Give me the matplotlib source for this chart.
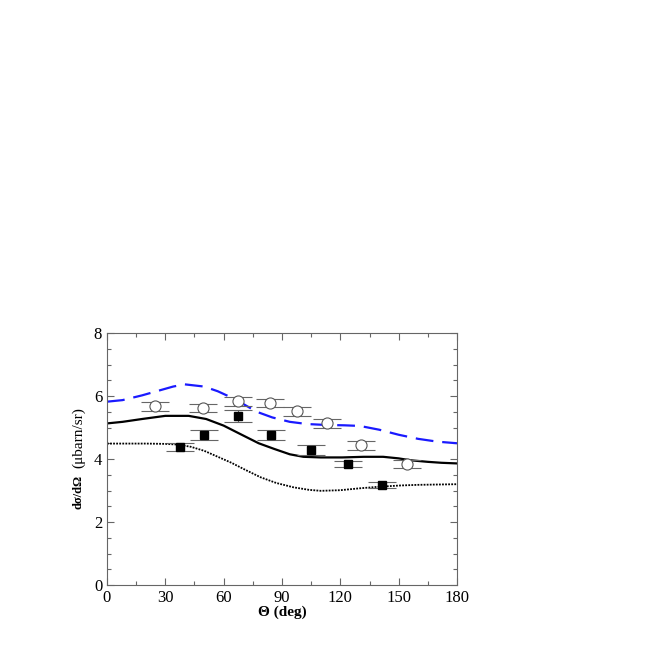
import numpy as np
import matplotlib
matplotlib.use('Agg')
from matplotlib import pyplot as plt
from matplotlib.ticker import MultipleLocator

plt.rcParams['font.family'] = ['Liberation Serif', 'DejaVu Serif']

# curves (theta in deg, cross section in mubarn/sr)
blue_theta = [0, 8, 18, 26, 34, 40, 50, 57, 63, 70, 77, 85, 94, 103, 113, 122, 130, 140, 150, 160, 170, 180]
blue_xs = [5.82, 5.87, 6.02, 6.16, 6.30, 6.37, 6.30, 6.15, 5.98, 5.75, 5.50, 5.32, 5.18, 5.11, 5.08, 5.07, 5.05, 4.93, 4.77, 4.64, 4.55, 4.50]

solid_theta = [0, 8, 18, 30, 42, 51, 60, 68, 78, 86, 94, 101, 110, 121, 132, 142, 150, 156, 165, 172, 180]
solid_xs = [5.13, 5.18, 5.27, 5.37, 5.37, 5.27, 5.06, 4.81, 4.50, 4.32, 4.15, 4.07, 4.05, 4.05, 4.07, 4.07, 4.02, 3.96, 3.91, 3.88, 3.86]

dot_theta = [0, 10, 20, 30, 36, 43, 50, 57, 64, 71, 79, 87, 96, 104, 110, 120, 130, 140, 151, 160, 170, 180]
dot_xs = [4.49, 4.49, 4.49, 4.48, 4.46, 4.39, 4.26, 4.07, 3.88, 3.66, 3.42, 3.24, 3.10, 3.02, 2.99, 3.01, 3.07, 3.12, 3.16, 3.18, 3.19, 3.20]

# data points
circ_theta = [24.7, 49.6, 67.4, 83.9, 97.9, 113.0, 130.8, 154.2]
circ_xs = [5.68, 5.62, 5.83, 5.78, 5.52, 5.13, 4.44, 3.84]
circ_err = [0.14, 0.14, 0.14, 0.14, 0.14, 0.14, 0.14, 0.14]

sq_theta = [37.5, 49.9, 67.5, 84.4, 104.9, 123.8, 141.3]
sq_xs = [4.39, 4.76, 5.37, 4.76, 4.29, 3.84, 3.17]
sq_err = [0.13, 0.15, 0.2, 0.15, 0.15, 0.1, 0.1]

fig = plt.figure(figsize=(6.54, 6.54), dpi=100)
ax = fig.add_axes([0.1636, 0.1055, 0.5352, 0.3853])

ax.plot(blue_theta, blue_xs, color='#1a1aff', lw=1.6, dashes=(8, 4))
ax.plot(solid_theta, solid_xs, color='black', lw=1.6)
ax.plot(dot_theta, dot_xs, color='black', lw=1.3, dashes=(1, 0.7))

ax.errorbar(circ_theta, circ_xs, yerr=circ_err, fmt='o', mfc='white', mec='#555555',
            ms=8, mew=0.8, ecolor='#666666', elinewidth=0.8, capsize=10, capthick=0.8)
ax.errorbar(sq_theta, sq_xs, yerr=sq_err, fmt='s', mfc='black', mec='black',
            ms=6, ecolor='#666666', elinewidth=0.8, capsize=10, capthick=0.8)

ax.set_xlim(0, 180)
ax.set_ylim(0, 8)
ax.xaxis.set_major_locator(MultipleLocator(30))
ax.xaxis.set_minor_locator(MultipleLocator(15))
ax.yaxis.set_major_locator(MultipleLocator(2))
ax.yaxis.set_minor_locator(MultipleLocator(0.5))
ax.tick_params(which='both', direction='in', top=True, right=True, labelsize=12,
               color='#666666', width=0.8)
ax.tick_params(which='major', length=5)
ax.tick_params(which='minor', length=3)
for s in ax.spines.values():
    s.set_color('#666666')
    s.set_linewidth(0.8)

ax.set_xlabel('Θ (deg)', fontsize=11, fontweight='bold', labelpad=0)
ax.text(-0.08, 0.37, 'dσ/dΩ', transform=ax.transAxes, rotation=90,
        fontsize=9, fontweight='bold', ha='center', va='center')
ax.text(-0.08, 0.587, '(μbarn/sr)', transform=ax.transAxes, rotation=90,
        fontsize=11, ha='center', va='center')

fig.savefig('out.png', dpi=100)
